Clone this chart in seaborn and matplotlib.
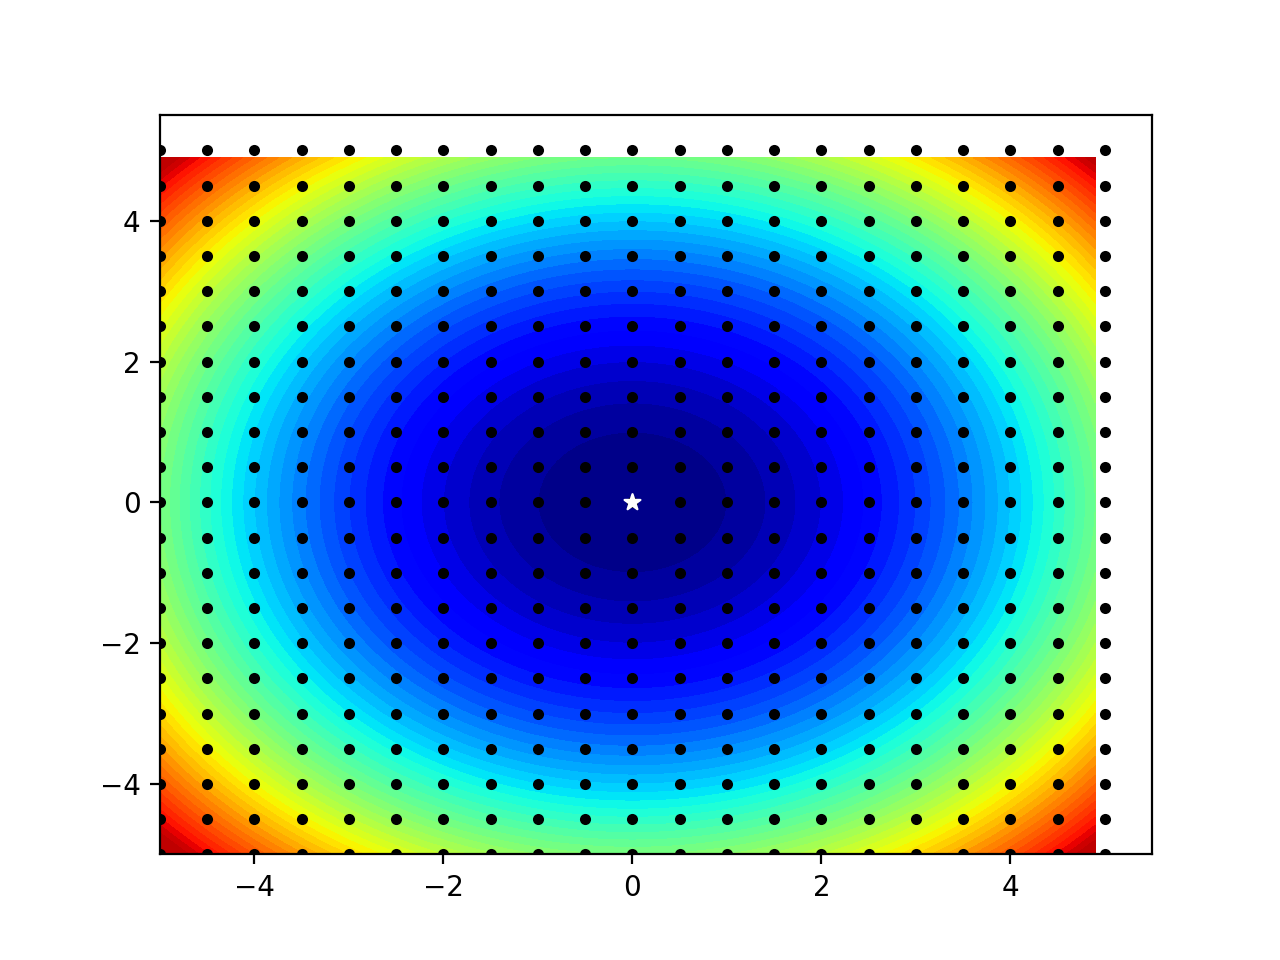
# bowl surface with sample grid and optimum marker

import matplotlib
matplotlib.use("Agg")

import matplotlib.pyplot as plt
import numpy as np
import seaborn as sns
from matplotlib.colors import ListedColormap

# axis positions of the surface, one value per 0.1 step
surface_axis = [
    -5.0, -4.9, -4.8, -4.7, -4.6, -4.5, -4.4, -4.3, -4.2, -4.1,
    -4.0, -3.9, -3.8, -3.7, -3.6, -3.5, -3.4, -3.3, -3.2, -3.1,
    -3.0, -2.9, -2.8, -2.7, -2.6, -2.5, -2.4, -2.3, -2.2, -2.1,
    -2.0, -1.9, -1.8, -1.7, -1.6, -1.5, -1.4, -1.3, -1.2, -1.1,
    -1.0, -0.9, -0.8, -0.7, -0.6, -0.5, -0.4, -0.3, -0.2, -0.1,
    0.0, 0.1, 0.2, 0.3, 0.4, 0.5, 0.6, 0.7, 0.8, 0.9,
    1.0, 1.1, 1.2, 1.3, 1.4, 1.5, 1.6, 1.7, 1.8, 1.9,
    2.0, 2.1, 2.2, 2.3, 2.4, 2.5, 2.6, 2.7, 2.8, 2.9,
    3.0, 3.1, 3.2, 3.3, 3.4, 3.5, 3.6, 3.7, 3.8, 3.9,
    4.0, 4.1, 4.2, 4.3, 4.4, 4.5, 4.6, 4.7, 4.8, 4.9,
]

# height contributed along one axis at each of those positions
surface_profile = [
    25.00, 24.01, 23.04, 22.09, 21.16, 20.25, 19.36, 18.49, 17.64, 16.81,
    16.00, 15.21, 14.44, 13.69, 12.96, 12.25, 11.56, 10.89, 10.24, 9.61,
    9.00, 8.41, 7.84, 7.29, 6.76, 6.25, 5.76, 5.29, 4.84, 4.41,
    4.00, 3.61, 3.24, 2.89, 2.56, 2.25, 1.96, 1.69, 1.44, 1.21,
    1.00, 0.81, 0.64, 0.49, 0.36, 0.25, 0.16, 0.09, 0.04, 0.01,
    0.00, 0.01, 0.04, 0.09, 0.16, 0.25, 0.36, 0.49, 0.64, 0.81,
    1.00, 1.21, 1.44, 1.69, 1.96, 2.25, 2.56, 2.89, 3.24, 3.61,
    4.00, 4.41, 4.84, 5.29, 5.76, 6.25, 6.76, 7.29, 7.84, 8.41,
    9.00, 9.61, 10.24, 10.89, 11.56, 12.25, 12.96, 13.69, 14.44, 15.21,
    16.00, 16.81, 17.64, 18.49, 19.36, 20.25, 21.16, 22.09, 23.04, 24.01,
]

# sample points, same positions on both axes
sample_axis = [
    -5.0, -4.5, -4.0, -3.5, -3.0, -2.5, -2.0, -1.5, -1.0, -0.5, 0.0,
    0.5, 1.0, 1.5, 2.0, 2.5, 3.0, 3.5, 4.0, 4.5, 5.0,
]

optimum_x = [0.0]
optimum_y = [0.0]


def main():
    sns.set_style("ticks", {"font.family": ["DejaVu Sans"]})
    plt.rcParams["xtick.direction"] = "out"
    plt.rcParams["ytick.direction"] = "out"

    fig, ax = plt.subplots(figsize=(6.4, 4.8), dpi=200)

    # jet, but the darkest reds stop at the red seen in the corners
    jet = plt.get_cmap("jet")
    corner_cmap = ListedColormap(jet(np.minimum(np.linspace(0, 1, 256), 0.945)))

    # filled contours
    profile = np.array(surface_profile)
    height = profile[:, None] + profile[None, :]
    ax.contourf(surface_axis, surface_axis, height, levels=50, cmap=corner_cmap)

    # sample grid
    grid_x, grid_y = np.meshgrid(sample_axis, sample_axis)
    sns.scatterplot(x=grid_x.ravel(), y=grid_y.ravel(), color="black",
                    s=16, linewidth=0, ax=ax, zorder=3)

    # optimum
    sns.scatterplot(x=optimum_x, y=optimum_y, color="white", marker="*",
                    s=36, linewidth=0.8, edgecolor="white", ax=ax, zorder=4)

    ax.set_xlim(-5, 5.5)
    ax.set_ylim(-5, 5.5)
    ax.set_xticks([-4, -2, 0, 2, 4])
    ax.set_yticks([-4, -2, 0, 2, 4])
    ax.tick_params(colors="black", length=3.5, width=0.8, labelsize=10)
    for spine in ax.spines.values():
        spine.set_color("black")
        spine.set_linewidth(0.8)
        spine.set_visible(True)

    fig.savefig("out.png", dpi=200)


if __name__ == "__main__":
    main()
